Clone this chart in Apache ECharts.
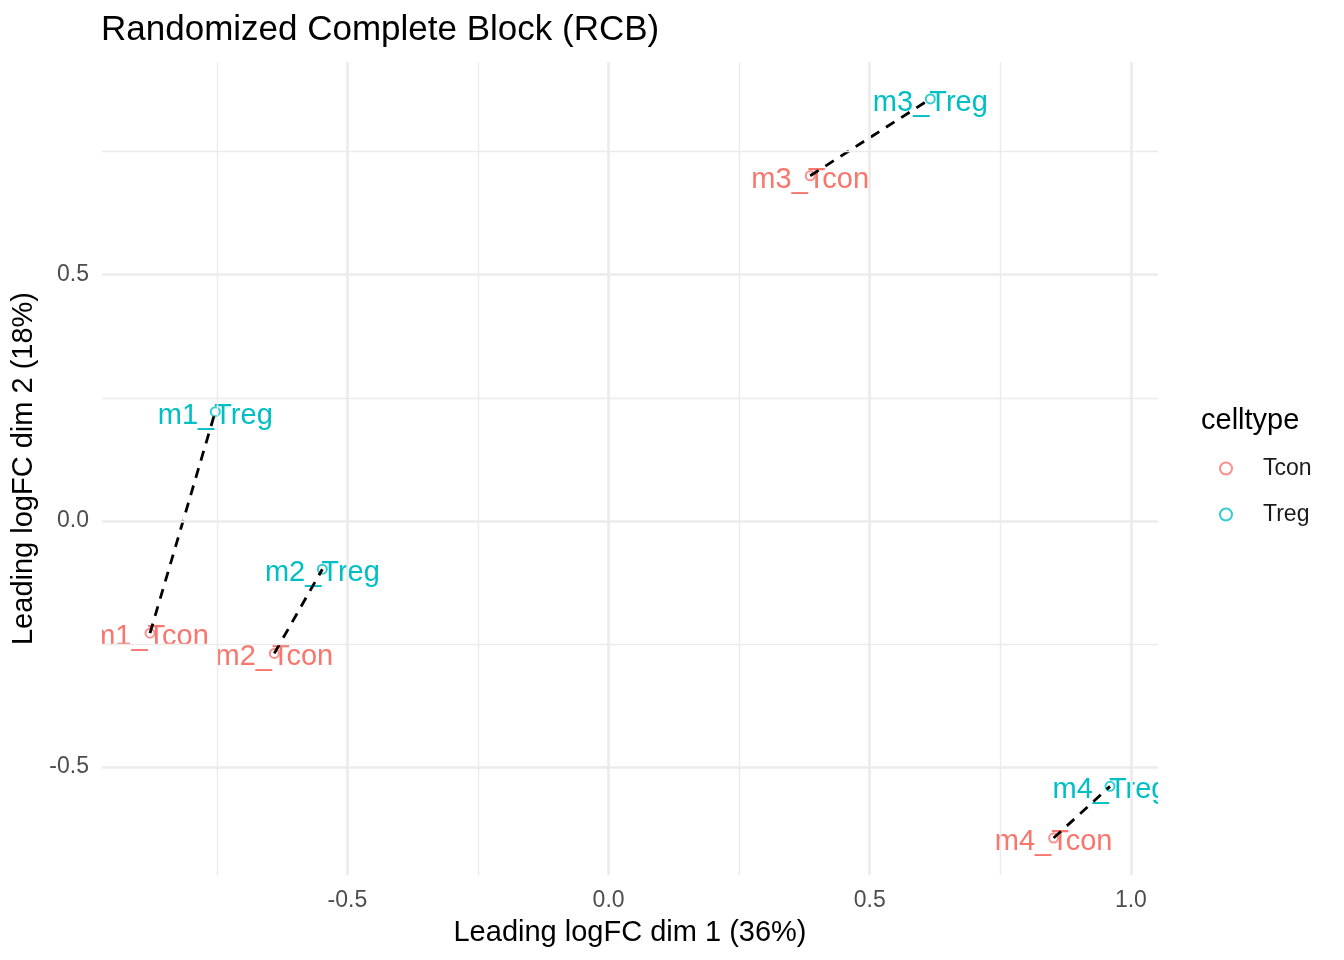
<!DOCTYPE html>
<html style="height: 100%">
<head>
  <meta charset="utf-8">
</head>
<body style="height: 100%; margin: 0">
  <div id="container" style="height: 100%"></div>
  <script src="https://cdn.jsdelivr.net/npm/echarts@6/dist/echarts.min.js"></script>
  <script type="text/javascript">
    var dom = document.getElementById('container');
    var myChart = echarts.init(dom, null, { renderer: 'canvas' });

    // MDS coordinates per sample
    var samples = ['m1_Tcon', 'm1_Treg', 'm2_Tcon', 'm2_Treg', 'm3_Tcon', 'm3_Treg', 'm4_Tcon', 'm4_Treg'];
    var mice = ['m1', 'm1', 'm2', 'm2', 'm3', 'm3', 'm4', 'm4'];
    var celltype = ['Tcon', 'Treg', 'Tcon', 'Treg', 'Tcon', 'Treg', 'Tcon', 'Treg'];
    var dim1 = [-0.878, -0.753, -0.640, -0.548, 0.386, 0.616, 0.852, 0.960];
    var dim2 = [-0.228, 0.222, -0.269, -0.098, 0.701, 0.857, -0.644, -0.539];

    var types = ['Tcon', 'Treg'];
    var typeColors = { Tcon: '#F8766D', Treg: '#00BFC4' };

    var xLabels = [-0.5, 0, 0.5, 1.0];
    var xMajor = [-0.5, 0, 0.5, 1.0];
    var xMinor = [-0.75, -0.25, 0.25, 0.75];
    var yLabels = [-0.5, 0, 0.5];
    var yMajor = [-0.5, 0, 0.5];
    var yMinor = [-0.25, 0.25, 0.75];

    var FONT = '"Liberation Sans", Arial, Helvetica, sans-serif';

    // ggplot style 5% expansion
    function expand(arr) {
      var lo = Math.min.apply(null, arr), hi = Math.max.apply(null, arr);
      var pad = (hi - lo) * 0.05;
      return [lo - pad, hi + pad];
    }
    var xr = expand(dim1), yr = expand(dim2);

    var gridLines = [];
    xMajor.forEach(function (v) { gridLines.push({ xAxis: v, lineStyle: { width: 2.6, color: '#EBEBEB', type: 'solid' } }); });
    xMinor.forEach(function (v) { gridLines.push({ xAxis: v, lineStyle: { width: 1.4, color: '#EBEBEB', type: 'solid' } }); });
    yMajor.forEach(function (v) { gridLines.push({ yAxis: v, lineStyle: { width: 2.6, color: '#EBEBEB', type: 'solid' } }); });
    yMinor.forEach(function (v) { gridLines.push({ yAxis: v, lineStyle: { width: 1.4, color: '#EBEBEB', type: 'solid' } }); });

    var series = [];
    series.push({
      name: 'grid',
      type: 'scatter',
      data: [],
      z: 0,
      silent: true,
      markLine: {
        silent: true,
        symbol: 'none',
        animation: false,
        label: { show: false },
        data: gridLines
      }
    });

    types.forEach(function (t) {
      var pts = [];
      for (var i = 0; i < samples.length; i++) {
        if (celltype[i] === t) pts.push([dim1[i], dim2[i]]);
      }
      series.push({
        name: t,
        type: 'scatter',
        data: pts,
        symbol: 'emptyCircle',
        symbolSize: 9,
        itemStyle: { color: typeColors[t], borderColor: typeColors[t], borderWidth: 1.5 },
        z: 2
      });
    });

    // sample labels, clipped to panel
    series.push({
      name: 'labels',
      type: 'custom',
      clip: true,
      silent: true,
      z: 3,
      data: samples.map(function (s, i) { return [dim1[i], dim2[i]]; }),
      renderItem: function (params, api) {
        var i = params.dataIndex;
        var p = api.coord([api.value(0), api.value(1)]);
        return {
          type: 'text',
          x: p[0],
          y: p[1] + 4,
          style: {
            text: samples[i],
            fill: typeColors[celltype[i]],
            fontSize: 29,
            fontFamily: FONT,
            align: 'center',
            verticalAlign: 'middle'
          }
        };
      }
    });

    // dashed lines joining Tcon/Treg of each mouse
    var mouseIds = mice.filter(function (m, i) { return mice.indexOf(m) === i; });
    mouseIds.forEach(function (m) {
      var pts = [];
      for (var i = 0; i < samples.length; i++) {
        if (mice[i] === m) pts.push([dim1[i], dim2[i]]);
      }
      series.push({
        name: m,
        type: 'line',
        data: pts,
        symbol: 'none',
        silent: true,
        z: 4,
        lineStyle: { color: '#000000', width: 2.8, type: [10, 8] }
      });
    });

    var option = {
      animation: false,
      backgroundColor: '#ffffff',
      title: [
        {
          text: 'Randomized Complete Block (RCB)',
          left: 101,
          top: 13,
          padding: 0,
          textStyle: { fontSize: 35, fontWeight: 'normal', color: '#000000', fontFamily: FONT }
        },
        {
          text: 'celltype',
          left: 1201,
          top: 406,
          padding: 0,
          textStyle: { fontSize: 29, fontWeight: 'normal', color: '#000000', fontFamily: FONT }
        }
      ],
      legend: {
        data: types,
        orient: 'vertical',
        left: 1219,
        top: 457,
        padding: 0,
        itemWidth: 12,
        itemHeight: 12,
        itemGap: 23,
        textStyle: { fontSize: 23, color: '#1A1A1A', fontFamily: FONT, padding: [0, 0, 0, 26] }
      },
      grid: { left: 102, right: 186, top: 62, bottom: 85, containLabel: false, outerBoundsMode: 'none' },
      xAxis: {
        type: 'value',
        min: xr[0],
        max: xr[1],
        name: 'Leading logFC dim 1 (36%)',
        nameLocation: 'middle',
        nameGap: 43,
        nameTextStyle: { fontSize: 29, color: '#000000', fontFamily: FONT },
        axisLine: { show: false },
        axisTick: { show: false },
        splitLine: { show: false },
        axisLabel: {
          customValues: xLabels,
          margin: 14,
          fontSize: 23,
          color: '#4D4D4D',
          fontFamily: FONT,
          formatter: function (v) { return v.toFixed(1); }
        }
      },
      yAxis: {
        type: 'value',
        min: yr[0],
        max: yr[1],
        name: 'Leading logFC dim 2 (18%)',
        nameLocation: 'middle',
        nameGap: 59,
        nameTextStyle: { fontSize: 29, color: '#000000', fontFamily: FONT },
        axisLine: { show: false },
        axisTick: { show: false },
        splitLine: { show: false },
        axisLabel: {
          customValues: yLabels,
          margin: 13,
          fontSize: 23,
          color: '#4D4D4D',
          fontFamily: FONT,
          formatter: function (v) { return v.toFixed(1); }
        }
      },
      series: series
    };

    myChart.setOption(option);
    window.addEventListener('resize', myChart.resize);
  </script>
</body>
</html>
